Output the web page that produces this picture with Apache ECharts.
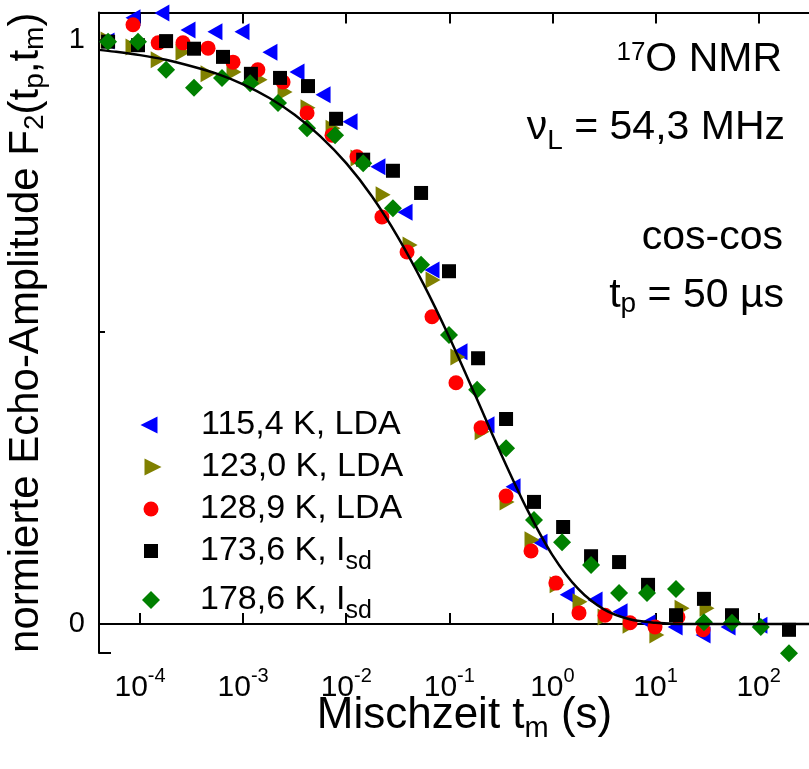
<!DOCTYPE html>
<html>
<head>
<meta charset="utf-8">
<script src="https://cdn.jsdelivr.net/npm/echarts@6/dist/echarts.min.js"></script>
<style>
  html, body { margin: 0; padding: 0; background: #ffffff; }
  #chart { width: 809px; height: 769px; }
</style>
</head>
<body>
<div id="chart"></div>
<script>
// Stimulated-echo decay F2(tp, tm) versus mixing time, 17O NMR, cos-cos sequence.
// Each point is [mixing time t_m in s, normalised echo amplitude].

const seriesNames = ['115,4 K, LDA', '123,0 K, LDA', '128,9 K, LDA', '173,6 K, Isd', '178,6 K, Isd'];

const data1154 = [
  [4.79e-5, 0.998], [8.55e-5, 1.038], [1.63e-4, 1.046], [2.92e-4, 1.017], [5.33e-4, 1.014],
  [9.75e-4, 1.014], [1.82e-3, 0.979], [3.33e-3, 0.945], [5.96e-3, 0.906], [1.09e-2, 0.860],
  [2.03e-2, 0.783], [3.72e-2, 0.705], [6.79e-2, 0.606], [0.127, 0.466], [0.232, 0.341],
  [0.415, 0.235], [0.758, 0.140], [1.39, 0.050], [2.59, 0.041], [4.53, 0.021],
  [8.46, 0.002], [15.5, -0.005], [28.9, -0.019], [50.5, -0.005], [103, -0.002]
];

const data1230 = [
  [4.90e-5, 1.000], [8.55e-5, 0.988], [1.50e-4, 0.966], [2.61e-4, 0.979], [4.57e-4, 0.942],
  [8.16e-4, 0.945], [1.46e-3, 0.932], [2.55e-3, 0.911], [4.26e-3, 0.884], [7.45e-3, 0.849],
  [1.30e-2, 0.798], [2.28e-2, 0.735], [4.16e-2, 0.649], [6.95e-2, 0.589], [0.121, 0.457],
  [0.208, 0.329], [0.363, 0.209], [0.634, 0.144], [1.11, 0.067], [1.85, 0.038],
  [3.24, 0.012], [5.66, -0.002], [10.3, -0.019], [18.1, 0.027], [31.6, 0.027]
];

const data1289 = [
  [8.55e-5, 1.026], [1.50e-4, 0.995], [2.61e-4, 0.995], [4.57e-4, 0.986], [7.98e-4, 0.962],
  [1.39e-3, 0.949], [2.44e-3, 0.928], [4.17e-3, 0.875], [7.28e-3, 0.837], [1.27e-2, 0.800],
  [2.22e-2, 0.697], [3.89e-2, 0.637], [6.79e-2, 0.526], [0.116, 0.413], [0.203, 0.336],
  [0.355, 0.219], [0.620, 0.125], [1.08, 0.070], [1.81, 0.019], [3.24, 0.015],
  [5.66, 0.002], [9.89, -0.005], [16.5, 0.012], [28.9, -0.010]
];

const data1736 = [
  [4.90e-5, 0.997], [9.56e-5, 0.991], [1.79e-4, 0.998], [3.34e-4, 0.985], [6.38e-4, 0.971],
  [1.19e-3, 0.942], [2.28e-3, 0.935], [4.26e-3, 0.921], [7.97e-3, 0.865], [1.46e-2, 0.795],
  [2.84e-2, 0.776], [5.32e-2, 0.738], [0.0993, 0.604], [0.190, 0.455], [0.355, 0.351],
  [0.663, 0.209], [1.27, 0.166], [2.37, 0.116], [4.43, 0.106], [8.46, 0.067],
  [15.8, 0.015], [29.5, 0.043], [55.2, 0.015], [197, -0.010]
];

const data1786 = [
  [4.90e-5, 0.997], [9.56e-5, 0.997], [1.79e-4, 0.949], [3.34e-4, 0.918], [6.24e-4, 0.935],
  [1.17e-3, 0.926], [2.18e-3, 0.892], [4.17e-3, 0.849], [7.79e-3, 0.837], [1.46e-2, 0.789],
  [2.84e-2, 0.712], [5.32e-2, 0.615], [0.0993, 0.495], [0.186, 0.401], [0.355, 0.301],
  [0.663, 0.178], [1.24, 0.140], [2.37, 0.101], [4.43, 0.053], [8.27, 0.053],
  [15.8, 0.060], [29.5, 0.003], [55.2, 0.002], [105, -0.005], [197, -0.050]
];

// Fitted decay curve, sampled along the solid line at quarter-decade steps
const fitCurve = [
  [3.98e-5, 0.983], [5.62e-5, 0.980], [1.00e-4, 0.974], [1.78e-4, 0.966], [3.16e-4, 0.955],
  [5.62e-4, 0.942], [1.00e-3, 0.924], [1.78e-3, 0.901], [3.16e-3, 0.872], [5.62e-3, 0.835],
  [1.00e-2, 0.789], [1.78e-2, 0.732], [3.16e-2, 0.663], [5.62e-2, 0.582], [0.100, 0.491],
  [0.178, 0.392], [0.316, 0.292], [0.562, 0.198], [1.00, 0.118], [1.78, 0.060],
  [3.16, 0.025], [5.62, 0.008], [10.0, 0.002], [17.8, 0.000], [31.6, 0.000],
  [100, 0.000], [315, 0.000]
];

const xRange = [4.0e-5, 315];
const yRange = [-0.0497, 1.047];
const yTickLabels = { '0': '0', '1': '1' };

const FONT = "'Liberation Sans', Arial, Helvetica, sans-serif";

const colors = ['#0000ff', '#808000', '#ff0000', '#000000', '#008000'];
const symbols = [
  'path://M0,50 L100,0 L100,100 Z',
  'path://M0,0 L100,50 L0,100 Z',
  'circle',
  'path://M0,0 L10,0 L10,10 L0,10 Z',
  'path://M5,0 L10,5 L5,10 L0,5 Z'
];
const symbolSizes = [[15, 17], [15, 17], 15, 14, 18];
const legendIcon = [[15, 17], [15, 17], [15, 15], [14, 14], [18, 18]];
const legendRowY = [425, 467, 509, 551, 600];
const legendIconX = [148, 152, 151, 151, 151];
const legendTextX = 200;
const seriesData = [data1154, data1230, data1289, data1736, data1786];

function legendLabel(name) {
  // "Isd" is written with a subscript
  return name.replace('Isd', 'I{sub|sd}');
}

const chart = echarts.init(document.getElementById('chart'), null, { renderer: 'canvas' });

// one legend block per entry so each row can be placed on its own
const legends = seriesNames.map((name, i) => {
  const itemWidth = 2 * (legendTextX - 5 - legendIconX[i]);
  return {
    data: [name],
    orient: 'vertical',
    left: legendIconX[i] - legendIcon[i][0] / 2,
    top: legendRowY[i] - 24,
    padding: 0,
    itemWidth: itemWidth,
    itemHeight: legendIcon[i][1],
    selectedMode: false,
    formatter: legendLabel,
    textStyle: {
      fontFamily: FONT, fontSize: 34, color: '#000', lineHeight: 48,
      rich: {
        sub: { fontFamily: FONT, fontSize: 25, lineHeight: 25, padding: [22, 0, 0, 0], color: '#000' }
      }
    }
  };
});

const scatterSeries = seriesNames.map((name, i) => ({
  name: name,
  type: 'scatter',
  data: seriesData[i],
  symbol: symbols[i],
  symbolSize: symbolSizes[i],
  clip: false,
  itemStyle: { color: colors[i], opacity: 1 },
  emphasis: { disabled: true },
  z: 2 + i
}));

const option = {
  animation: false,
  backgroundColor: '#ffffff',
  textStyle: { fontFamily: FONT },
  grid: { left: 99, top: 12.5, width: 711, height: 640.5, outerBoundsMode: 'none', containLabel: false },
  legend: legends,
  xAxis: [
    {
      type: 'log',
      logBase: 10,
      min: xRange[0],
      max: xRange[1],
      splitNumber: 7,
      name: 'Mischzeit t{sub|m} (s)',
      nameLocation: 'middle',
      nameGap: 38,
      nameMoveOverlap: false,
      nameTextStyle: {
        fontFamily: FONT, fontSize: 44, color: '#000', lineHeight: 50,
        padding: [0, 0, 0, 20],
        rich: { sub: { fontFamily: FONT, fontSize: 29, lineHeight: 29, padding: [26, 0, 0, 0], color: '#000' } }
      },
      axisLine: { show: true, lineStyle: { color: '#000', width: 2 } },
      axisTick: { show: true, inside: true, length: 11, lineStyle: { color: '#000', width: 2 } },
      minorTick: { show: false },
      splitLine: { show: false },
      axisLabel: {
        showMinLabel: false,
        showMaxLabel: false,
        margin: 19,
        formatter: function (v) {
          const e = Math.log10(v);
          const r = Math.round(e);
          if (Math.abs(e - r) > 1e-6) return '';
          return '{b|10}{sup|' + r + '}';
        },
        rich: {
          b: { fontFamily: FONT, fontSize: 30, lineHeight: 32, color: '#000' },
          sup: { fontFamily: FONT, fontSize: 20, lineHeight: 20, padding: [0, 0, 24, 0], color: '#000' }
        }
      }
    },
    {
      type: 'log',
      logBase: 10,
      position: 'top',
      min: xRange[0],
      max: xRange[1],
      splitNumber: 7,
      axisLine: { show: true, lineStyle: { color: '#000', width: 2 } },
      axisTick: { show: true, inside: true, length: 11, lineStyle: { color: '#000', width: 2 } },
      axisLabel: { show: false },
      splitLine: { show: false }
    }
  ],
  yAxis: [
    {
      type: 'value',
      min: yRange[0],
      max: yRange[1],
      splitNumber: 1,
      name: 'normierte Echo-Amplitude F{sub|2}(t{sub|p},t{sub|m})',
      nameLocation: 'middle',
      nameRotate: 90,
      nameGap: 50,
      nameMoveOverlap: false,
      nameTextStyle: {
        fontFamily: FONT, fontSize: 42, color: '#000', lineHeight: 46,
        rich: { sub: { fontFamily: FONT, fontSize: 28, lineHeight: 28, padding: [18, 0, 0, 0], color: '#000' } }
      },
      axisLine: { show: true, lineStyle: { color: '#000', width: 2 } },
      axisTick: { show: true, inside: true, length: 12, lineStyle: { color: '#000', width: 2 } },
      minorTick: { show: true, splitNumber: 2, length: 6, lineStyle: { color: '#000', width: 2 } },
      splitLine: { show: false },
      minorSplitLine: { show: false },
      axisLabel: {
        margin: 14,
        fontFamily: FONT, fontSize: 29, color: '#000',
        showMinLabel: false, showMaxLabel: false,
        formatter: function (v) {
          const k = String(Math.round(v * 1000) / 1000);
          return yTickLabels[k] || '';
        }
      }
    }
  ],
  graphic: [
    {
      type: 'text', x: 782, y: 60, z: 100,
      style: {
        text: '{sup|17}{b|O NMR}', align: 'right', verticalAlign: 'middle', fill: '#000',
        rich: {
          b: { fontFamily: FONT, fontSize: 41, lineHeight: 44, fill: '#000' },
          sup: { fontFamily: FONT, fontSize: 26, lineHeight: 26, padding: [0, 0, 14, 0], fill: '#000' }
        }
      }
    },
    {
      type: 'text', x: 785, y: 128, z: 100,
      style: {
        text: '{b|\u03bd}{sub|L}{b| = 54,3 MHz}', align: 'right', verticalAlign: 'middle', fill: '#000',
        rich: {
          b: { fontFamily: FONT, fontSize: 41, lineHeight: 44, fill: '#000' },
          sub: { fontFamily: FONT, fontSize: 28, lineHeight: 28, padding: [26, 0, 0, 0], fill: '#000' }
        }
      }
    },
    {
      type: 'text', x: 783, y: 238, z: 100,
      style: { text: 'cos-cos', align: 'right', verticalAlign: 'middle', fill: '#000', fontFamily: FONT, fontSize: 41 }
    },
    {
      type: 'text', x: 784, y: 296, z: 100,
      style: {
        text: '{b|t}{sub|p}{b| = 50 \u00b5s}', align: 'right', verticalAlign: 'middle', fill: '#000',
        rich: {
          b: { fontFamily: FONT, fontSize: 41, lineHeight: 44, fill: '#000' },
          sub: { fontFamily: FONT, fontSize: 28, lineHeight: 28, padding: [16, 0, 0, 0], fill: '#000' }
        }
      }
    }
  ],
  series: scatterSeries.concat([
    {
      name: 'fit',
      type: 'line',
      data: fitCurve,
      showSymbol: false,
      symbol: 'none',
      smooth: 0.3,
      clip: true,
      lineStyle: { color: '#000', width: 2.5 },
      emphasis: { disabled: true },
      z: 10
    }
  ])
};

chart.setOption(option);
</script>
</body>
</html>
